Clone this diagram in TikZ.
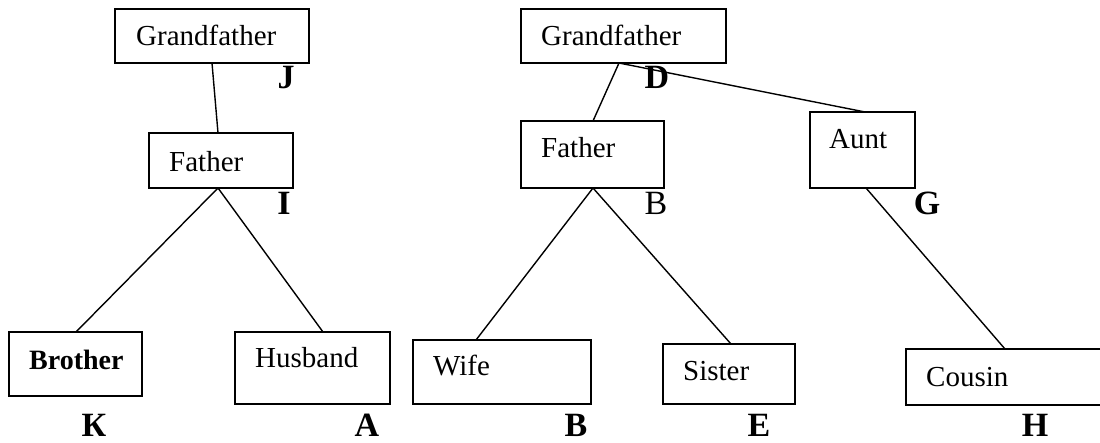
\documentclass[tikz,border=0pt]{standalone}
\usepackage{fontspec}
\setmainfont{Liberation Serif}
\begin{document}
\begin{tikzpicture}[x=1pt,y=-1pt,
  box/.style={draw,line width=1.4pt,inner sep=0pt,outer sep=0pt},
  txt/.style={anchor=base west,inner sep=0pt,font=\fontsize{29}{33}\selectfont},
  lbl/.style={anchor=center,inner sep=0pt,font=\fontsize{34}{38}\selectfont\bfseries},
  lblr/.style={anchor=center,inner sep=0pt,font=\fontsize{34}{38}\selectfont},
  conn/.style={line width=1.4pt}]
\useasboundingbox (0,0) rectangle (1100,443);
% boxes
\node[box,minimum width=194pt,minimum height=54pt] (gfL) at (212,36) {};
\node[box,minimum width=144pt,minimum height=55pt] (faL) at (221,160.5) {};
\node[box,minimum width=133pt,minimum height=64pt] (br) at (75.5,364) {};
\node[box,minimum width=155pt,minimum height=72pt] (hu) at (312.5,368) {};
\node[box,minimum width=205pt,minimum height=54pt] (gfR) at (623.5,36) {};
\node[box,minimum width=143pt,minimum height=67pt] (faR) at (592.5,154.5) {};
\node[box,minimum width=105pt,minimum height=76pt] (au) at (862.5,150) {};
\node[box,minimum width=178pt,minimum height=64pt] (wi) at (502,372) {};
\node[box,minimum width=132pt,minimum height=60pt] (si) at (729,374) {};
\node[box,minimum width=204pt,minimum height=56pt] (co) at (1008,377) {};
% texts
\node[txt] (tgfL) at (136,46) {Grandfather};
\node[txt] (tfaL) at (169,172) {Father};
\node[txt,font=\fontsize{28}{32}\selectfont\bfseries] (tbr) at (29,370) {Brother};
\node[txt] (thu) at (255,368) {Husband};
\node[txt] (tgfR) at (541,46) {Grandfather};
\node[txt] (tfaR) at (541,158) {Father};
\node[txt] (tau) at (829,149) {Aunt};
\node[txt] (twi) at (433,375) {Wife};
\node[txt] (tsi) at (683,381) {Sister};
\node[txt] (tco) at (926,387) {Cousin};
% letter labels
\node[lbl] (lJ) at (286,77.5) {J};
\node[lbl] (lI) at (284,203) {I};
\node[lbl] (lK) at (94,425) {К};
\node[lbl] (lA) at (367,425) {A};
\node[lbl] (lD) at (657,77.5) {D};
\node[lblr] (lB1) at (656,203) {B};
\node[lbl] (lG) at (927,203) {G};
\node[lbl] (lB2) at (576,425) {B};
\node[lbl] (lE) at (759,425) {E};
\node[lbl] (lH) at (1035,425) {H};
% connectors
\draw[conn] ([xshift=97pt]gfL.south west) -- ([xshift=69pt]faL.north west);
\draw[conn] ([xshift=69pt]faL.south west) -- ([xshift=67pt]br.north west);
\draw[conn] ([xshift=69pt]faL.south west) -- ([xshift=88pt]hu.north west);
\draw[conn] ([xshift=98pt]gfR.south west) -- ([xshift=72pt]faR.north west);
\draw[conn] ([xshift=98pt]gfR.south west) -- ([xshift=55pt]au.north west);
\draw[conn] ([xshift=72pt]faR.south west) -- ([xshift=63pt]wi.north west);
\draw[conn] ([xshift=72pt]faR.south west) -- ([xshift=68pt]si.north west);
\draw[conn] ([xshift=56pt]au.south west) -- ([xshift=99pt]co.north west);
\end{tikzpicture}
\end{document}
